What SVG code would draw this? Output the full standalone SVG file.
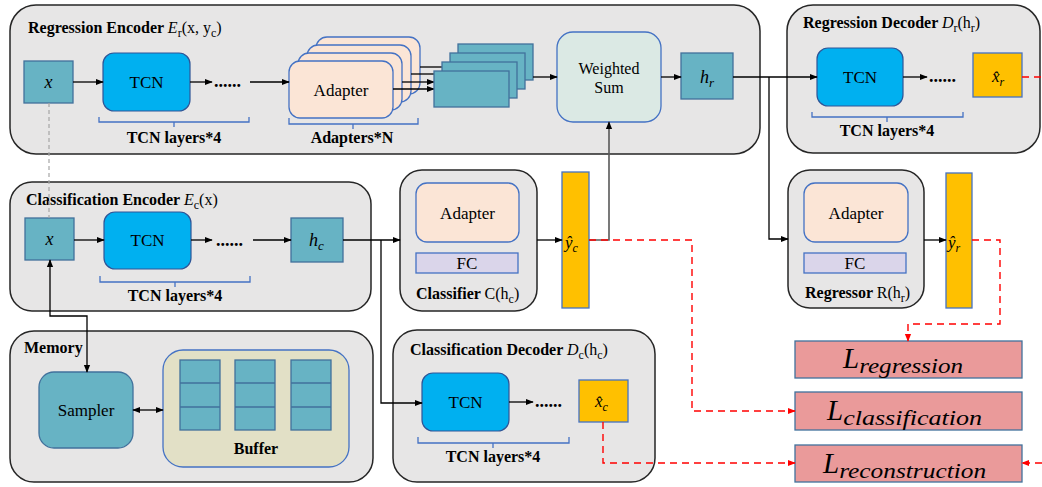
<svg xmlns="http://www.w3.org/2000/svg" width="1042" height="487" viewBox="0 0 1042 487">
<defs>
<marker id="ah" viewBox="0 0 10 10" refX="9" refY="5" markerWidth="8" markerHeight="8" markerUnits="userSpaceOnUse" orient="auto-start-reverse"><path d="M0,1 L10,5 L0,9 z" fill="#000"/></marker>
<marker id="ahr" viewBox="0 0 10 10" refX="9" refY="5" markerWidth="8" markerHeight="8" markerUnits="userSpaceOnUse" orient="auto-start-reverse"><path d="M0,1 L10,5 L0,9 z" fill="#ff0000"/></marker>
<style>
.grp{fill:#e7e6e6;stroke:#262626;stroke-width:1.5}
.teal{fill:#67b3c4;stroke:#41719c;stroke-width:1.3}
.tcn{fill:#00b0f0;stroke:#2f5597;stroke-width:1.2}
.adp{fill:#fbe5d6;stroke:#4472c4;stroke-width:1.3}
.fc{fill:#dad5ea;stroke:#4472c4;stroke-width:1.3}
.yel{fill:#ffc000;stroke:#4472c4;stroke-width:1.3}
.loss{fill:#ea9a9a;stroke:#41719c;stroke-width:1.3}
.ws{fill:#dbe9e4;stroke:#4472c4;stroke-width:1.3}
.buf{fill:#e2e0c6;stroke:#4472c4;stroke-width:1.3}
.brace{fill:none;stroke:#4472c4;stroke-width:1.3}
.cell{stroke:#41719c;stroke-width:1.3}
.ln{fill:none;stroke:#000;stroke-width:1.3}
.red{fill:none;stroke:#ff0000;stroke-width:1.4;stroke-dasharray:7,5}
.t{font-family:"Liberation Serif",serif;fill:#000}
.title{font-family:"Liberation Serif",serif;font-size:16px;font-weight:bold;fill:#000}
.norm{font-weight:normal}
.it{font-style:italic}
.lbl{font-family:"Liberation Serif",serif;font-size:17px;fill:#000;text-anchor:middle}
.blbl{font-family:"Liberation Serif",serif;font-size:16px;font-weight:bold;fill:#000;text-anchor:middle}
.math{font-family:"Liberation Serif",serif;font-style:italic;fill:#000}
.dots{font-family:"Liberation Serif",serif;font-size:18px;fill:#000;font-weight:bold}
</style>
</defs>

<!-- Regression Encoder -->
<g id="regression-encoder">
<rect class="grp" x="10" y="5" width="750" height="149" rx="26"/>
<text class="title" x="28" y="33">Regression Encoder <tspan class="norm it">E</tspan><tspan class="norm" font-size="12" dy="4">r</tspan><tspan class="norm" dy="-4">(x, y</tspan><tspan class="norm" font-size="12" dy="4">c</tspan><tspan class="norm" dy="-4">)</tspan></text>
</g>
<g id="reg-x"><rect class="teal" x="24" y="61" width="49" height="42"/><text class="math" x="48.5" y="88" font-size="18" text-anchor="middle">x</text></g>
<g id="reg-tcn"><rect class="tcn" x="103" y="53" width="87" height="58" rx="11"/><text class="lbl" x="146.5" y="88">TCN</text></g>
<g id="reg-dots"><text class="dots" x="214" y="87">......</text></g>
<g id="reg-brace"><path class="brace" d="M99,117 L99,122 L249,122 L249,117 M174,122 L174,127"/><text class="blbl" x="174" y="143">TCN layers*4</text></g>
<g id="adapters">
<rect class="adp" x="316" y="37" width="104" height="57" rx="11"/>
<rect class="adp" x="307" y="45" width="104" height="57" rx="11"/>
<rect class="adp" x="298" y="53" width="104" height="57" rx="11"/>
<rect class="adp" x="289" y="61" width="104" height="57" rx="11"/>
<text class="lbl" x="341" y="96" font-size="18">Adapter</text>
<path class="brace" d="M289,118 L289,124 L418,124 L418,118 M353,124 L353,129"/>
<text class="blbl" x="352" y="143">Adapters*N</text>
</g>
<g id="adapter-arrows">
<line class="ln" x1="420" y1="67" x2="450" y2="67"/>
<line class="ln" x1="411" y1="74" x2="442" y2="74" marker-end="url(#ah)"/>
<line class="ln" x1="402" y1="82" x2="434" y2="82" marker-end="url(#ah)"/>
<line class="ln" x1="393" y1="89" x2="434" y2="89" marker-end="url(#ah)"/>
</g>
<g id="feature-stack">
<rect class="teal" x="458" y="44" width="75" height="36"/>
<rect class="teal" x="450" y="53" width="75" height="36"/>
<rect class="teal" x="442" y="62" width="75" height="36"/>
<rect class="teal" x="434" y="71" width="75" height="36"/>
</g>
<g id="weighted-sum"><rect class="ws" x="557" y="32" width="104" height="90" rx="16"/><text class="t" x="609" y="74" font-size="16" text-anchor="middle">Weighted</text><text class="t" x="609" y="93" font-size="16" text-anchor="middle">Sum</text></g>
<g id="h-r"><rect class="teal" x="681" y="53" width="52" height="46"/><text class="math" x="700" y="83" font-size="18">h<tspan font-size="13" dy="4">r</tspan></text></g>

<!-- Regression Decoder -->
<g id="regression-decoder">
<rect class="grp" x="787" y="5" width="253" height="148" rx="26"/>
<text class="title" x="803" y="28">Regression Decoder <tspan class="norm it">D</tspan><tspan class="norm" font-size="12" dy="4">r</tspan><tspan class="norm" dy="-4">(h</tspan><tspan class="norm" font-size="12" dy="4">r</tspan><tspan class="norm" dy="-4">)</tspan></text>
</g>
<g id="dec-r-tcn"><rect class="tcn" x="817" y="48" width="86" height="58" rx="11"/><text class="lbl" x="860" y="83">TCN</text></g>
<g id="dec-r-dots"><text class="dots" x="929" y="82">......</text></g>
<g id="dec-r-brace"><path class="brace" d="M812,112 L812,117 L963,117 L963,112 M887,117 L887,122"/><text class="blbl" x="887" y="136">TCN layers*4</text></g>
<g id="xhat-r"><rect class="yel" x="973" y="53" width="49" height="44"/><text class="math" x="992" y="82" font-size="17">x̂<tspan font-size="12" dy="4">r</tspan></text></g>

<!-- Classification Encoder -->
<g id="classification-encoder">
<rect class="grp" x="10" y="182" width="361" height="129" rx="22"/>
<text class="title" x="26" y="205">Classification Encoder <tspan class="norm it">E</tspan><tspan class="norm" font-size="12" dy="4">c</tspan><tspan class="norm" dy="-4">(x)</tspan></text>
</g>
<g id="cls-x"><rect class="teal" x="25" y="218" width="49" height="42"/><text class="math" x="49.5" y="245" font-size="18" text-anchor="middle">x</text></g>
<g id="cls-tcn"><rect class="tcn" x="104" y="212" width="87" height="57" rx="11"/><text class="lbl" x="147.5" y="246">TCN</text></g>
<g id="cls-dots"><text class="dots" x="216" y="246">......</text></g>
<g id="cls-brace"><path class="brace" d="M100,276 L100,282 L250,282 L250,276 M175,282 L175,287"/><text class="blbl" x="175" y="301">TCN layers*4</text></g>
<g id="h-c"><rect class="teal" x="291" y="218" width="52" height="44"/><text class="math" x="309" y="246" font-size="18">h<tspan font-size="13" dy="4">c</tspan></text></g>

<!-- Classifier -->
<g id="classifier">
<rect class="grp" x="400" y="170" width="137" height="141" rx="22"/>
<rect class="adp" x="416" y="183" width="103" height="59" rx="11"/>
<text class="lbl" x="467.5" y="219" font-size="18">Adapter</text>
<rect class="fc" x="416" y="253" width="102" height="20"/>
<text class="lbl" x="467" y="269">FC</text>
<text class="title" x="416" y="299">Classifier <tspan class="norm">C(h</tspan><tspan class="norm" font-size="12" dy="4">c</tspan><tspan class="norm" dy="-4">)</tspan></text>
</g>
<g id="yhat-c"><rect class="yel" x="562" y="172" width="27" height="136"/><text class="math" x="565" y="248" font-size="17">ŷ<tspan font-size="12" dy="4">c</tspan></text></g>

<!-- Regressor -->
<g id="regressor">
<rect class="grp" x="788" y="170" width="136" height="138" rx="22"/>
<rect class="adp" x="804" y="183" width="104" height="59" rx="11"/>
<text class="lbl" x="856" y="219" font-size="18">Adapter</text>
<rect class="fc" x="804" y="253" width="102" height="20"/>
<text class="lbl" x="855" y="269">FC</text>
<text class="title" x="805" y="298">Regressor <tspan class="norm">R(h</tspan><tspan class="norm" font-size="12" dy="4">r</tspan><tspan class="norm" dy="-4">)</tspan></text>
</g>
<g id="yhat-r"><rect class="yel" x="946" y="173" width="26" height="135"/><text class="math" x="948" y="248" font-size="17">ŷ<tspan font-size="12" dy="4">r</tspan></text></g>

<!-- Memory -->
<g id="memory">
<rect class="grp" x="10" y="331" width="363" height="151" rx="24"/>
<text class="title" x="24" y="353">Memory</text>
</g>
<g id="sampler"><rect class="teal" x="39" y="372" width="94" height="76" rx="15"/><text class="lbl" x="86" y="416">Sampler</text></g>
<g id="buffer">
<rect class="buf" x="163" y="350" width="186" height="117" rx="20"/>
<rect class="teal" x="180" y="360" width="40" height="70"/><line class="cell" x1="180" y1="383" x2="220" y2="383"/><line class="cell" x1="180" y1="407" x2="220" y2="407"/>
<rect class="teal" x="235" y="360" width="40" height="70"/><line class="cell" x1="235" y1="383" x2="275" y2="383"/><line class="cell" x1="235" y1="407" x2="275" y2="407"/>
<rect class="teal" x="291" y="360" width="40" height="70"/><line class="cell" x1="291" y1="383" x2="331" y2="383"/><line class="cell" x1="291" y1="407" x2="331" y2="407"/>
<text class="blbl" x="256" y="454">Buffer</text>
</g>

<!-- Classification Decoder -->
<g id="classification-decoder">
<rect class="grp" x="393" y="330" width="262" height="152" rx="24"/>
<text class="title" x="410" y="355">Classification Decoder <tspan class="norm it">D</tspan><tspan class="norm" font-size="12" dy="4">c</tspan><tspan class="norm" dy="-4">(h</tspan><tspan class="norm" font-size="12" dy="4">c</tspan><tspan class="norm" dy="-4">)</tspan></text>
</g>
<g id="dec-c-tcn"><rect class="tcn" x="422" y="373" width="87" height="58" rx="11"/><text class="lbl" x="465.5" y="408">TCN</text></g>
<g id="dec-c-dots"><text class="dots" x="535" y="407">......</text></g>
<g id="dec-c-brace"><path class="brace" d="M418,437 L418,443 L569,443 L569,437 M493,443 L493,448"/><text class="blbl" x="493" y="462">TCN layers*4</text></g>
<g id="xhat-c"><rect class="yel" x="579" y="380" width="49" height="42"/><text class="math" x="595" y="407" font-size="17">x̂<tspan font-size="12" dy="4">c</tspan></text></g>

<!-- Losses -->
<g id="loss-regression"><rect class="loss" x="795" y="341" width="227" height="37"/><text class="math" x="843" y="368" font-size="29">L<tspan font-size="21" dy="5" textLength="104" lengthAdjust="spacingAndGlyphs">regression</tspan></text></g>
<g id="loss-classification"><rect class="loss" x="795" y="392" width="227" height="38"/><text class="math" x="827" y="420" font-size="29">L<tspan font-size="21" dy="5" textLength="139" lengthAdjust="spacingAndGlyphs">classification</tspan></text></g>
<g id="loss-reconstruction"><rect class="loss" x="795" y="445" width="227" height="37"/><text class="math" x="823" y="473" font-size="29">L<tspan font-size="21" dy="5" textLength="147" lengthAdjust="spacingAndGlyphs">reconstruction</tspan></text></g>

<!-- Connectors -->
<g id="connectors">
<line x1="49" y1="103" x2="49" y2="218" stroke="#a6a6a6" stroke-width="1.2" stroke-dasharray="4,3"/>
<line class="ln" x1="73" y1="82" x2="103" y2="82" marker-end="url(#ah)"/>
<line class="ln" x1="190" y1="82" x2="212" y2="82" marker-end="url(#ah)"/>
<line class="ln" x1="250" y1="82" x2="289" y2="82" marker-end="url(#ah)"/>
<line class="ln" x1="533" y1="77" x2="557" y2="77" marker-end="url(#ah)"/>
<line class="ln" x1="661" y1="77" x2="681" y2="77" marker-end="url(#ah)"/>
<line class="ln" x1="733" y1="77" x2="817" y2="77" marker-end="url(#ah)"/>
<polyline class="ln" points="769,77 769,239 788,239" marker-end="url(#ah)"/>
<line class="ln" x1="903" y1="77" x2="927" y2="77" marker-end="url(#ah)"/>
<line class="ln" x1="74" y1="240" x2="104" y2="240" marker-end="url(#ah)"/>
<line class="ln" x1="191" y1="240" x2="212" y2="240" marker-end="url(#ah)"/>
<line class="ln" x1="253" y1="240" x2="291" y2="240" marker-end="url(#ah)"/>
<line class="ln" x1="343" y1="240" x2="400" y2="240" marker-end="url(#ah)"/>
<polyline class="ln" points="381,240 381,403 422,403" marker-end="url(#ah)"/>
<line class="ln" x1="537" y1="240" x2="562" y2="240" marker-end="url(#ah)"/>
<line class="ln" x1="924" y1="240" x2="946" y2="240" marker-end="url(#ah)"/>
<polyline points="589,240 609,240 609,122" fill="none" stroke="#595959" stroke-width="1.6" marker-end="url(#ah)"/>
<line class="ln" x1="509" y1="402" x2="533" y2="402" marker-end="url(#ah)"/>
<polyline class="ln" points="50,260 50,316 87,316 87,372" marker-start="url(#ah)" marker-end="url(#ah)"/>
<line class="ln" x1="133" y1="410" x2="163" y2="410" marker-start="url(#ah)" marker-end="url(#ah)"/>
<polyline class="red" points="589,240 692,240 692,411 795,411" marker-end="url(#ahr)"/>
<polyline class="red" points="972,240 1000,240 1000,324 908,324 908,341" marker-end="url(#ahr)"/>
<polyline class="red" points="603,422 603,463 795,463" marker-end="url(#ahr)"/>
<line class="red" x1="1042" y1="463" x2="1022" y2="463" marker-end="url(#ahr)"/>
<line class="red" x1="1022" y1="77" x2="1042" y2="77"/>
</g>
</svg>
